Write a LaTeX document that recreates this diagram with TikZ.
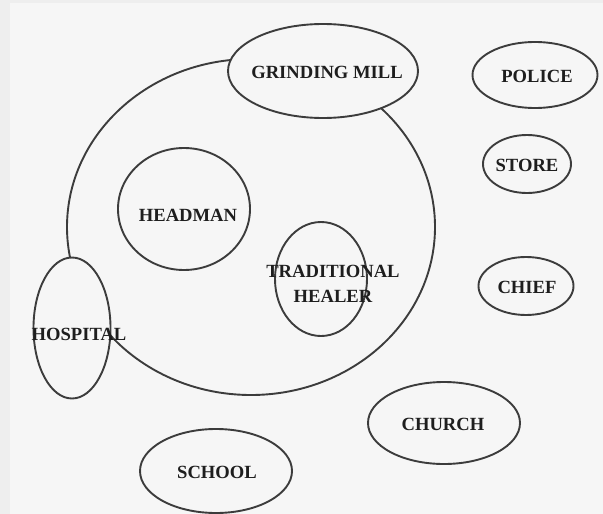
\documentclass[tikz,border=0pt]{standalone}
\usepackage{fontspec}
\setmainfont{Liberation Serif}
\usetikzlibrary{shapes.geometric}
\definecolor{bg}{RGB}{246,246,246}
\definecolor{strip}{RGB}{238,238,238}
\definecolor{ink}{RGB}{60,60,60}
\definecolor{txt}{RGB}{30,30,30}
\tikzset{
  blob/.style={ellipse, draw=ink, line width=1.9pt, fill=bg, inner sep=0pt, outer sep=0pt},
  ring/.style={ellipse, draw=ink, line width=1.9pt, inner sep=0pt, outer sep=0pt},
  lbl/.style={text=txt, inner sep=0pt, align=center, font=\fontsize{18.6}{25}\selectfont\bfseries}
}
\begin{document}
\begin{tikzpicture}[x=1pt,y=-1pt]
\useasboundingbox (0,0) rectangle (603,514);
\fill[bg] (0,0) rectangle (603,514);
\fill[strip] (0,0) rectangle (10,514);
\fill[strip] (0,0) rectangle (603,3);
% large circle
\node[ring, minimum width=368, minimum height=336] (big) at (251,227) {};
% inner / overlapping ellipses
\node[blob, minimum width=190, minimum height=94] (mill) at (323,71) {};
\node[blob, minimum width=132, minimum height=122] (head) at (184,209) {};
\node[blob, minimum width=92, minimum height=114] (heal) at (321,279) {};
\node[blob, minimum width=77, minimum height=141] (hosp) at (72,328) {};
% outside ellipses
\node[blob, minimum width=125, minimum height=66] (pol) at (535,75) {};
\node[blob, minimum width=88, minimum height=58] (sto) at (527,164) {};
\node[blob, minimum width=95, minimum height=58] (chi) at (526,286) {};
\node[blob, minimum width=152, minimum height=82] (chu) at (444,423) {};
\node[blob, minimum width=152, minimum height=84] (sch) at (216,471) {};
% labels
\node[lbl] (millT) at (327,72) {GRINDING MILL};
\node[lbl] (headT) at (188,215) {HEADMAN};
\node[lbl] (healT) at (333,284) {TRADITIONAL\\HEALER};
\node[lbl] (hospT) at (79,334) {HOSPITAL};
\node[lbl] (polT) at (537,76) {POLICE};
\node[lbl] (stoT) at (527,165) {STORE};
\node[lbl] (chiT) at (527,287) {CHIEF};
\node[lbl] (chuT) at (443,424) {CHURCH};
\node[lbl] (schT) at (217,472) {SCHOOL};
\end{tikzpicture}
\end{document}
